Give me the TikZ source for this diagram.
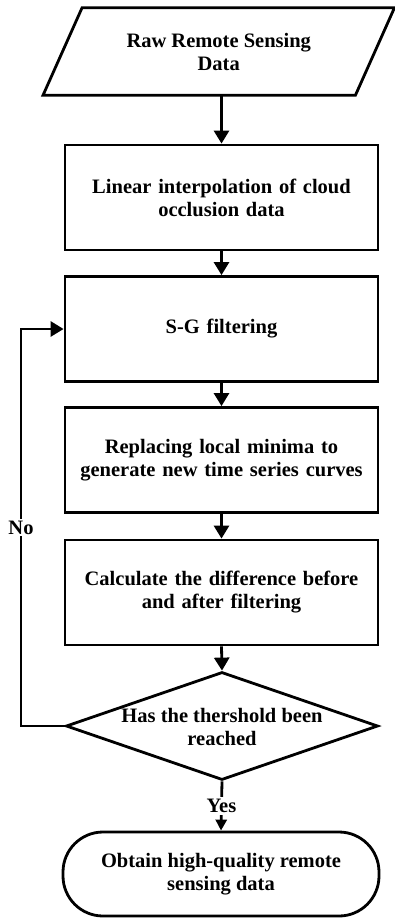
\documentclass[tikz,border=0pt]{standalone}
\usepackage{fontspec}
\setmainfont{Liberation Serif}
\usetikzlibrary{arrows.meta,shapes.geometric}
\begin{document}
\begin{tikzpicture}[x=1pt,y=1pt,
  txt/.style={font=\bfseries\fontsize{20.5}{23}\selectfont, align=center},
  box/.style={txt, draw, line width=2.8pt, minimum width=313pt, minimum height=105pt, inner sep=0pt, text width=300pt},
  ghost/.style={txt, minimum width=312pt, minimum height=87pt, inner sep=0pt},
  dia/.style={draw, diamond, line width=2.8pt, minimum width=312pt, minimum height=108pt, inner sep=0pt},
  term/.style={txt, draw, line width=2.8pt, rounded corners=40pt, minimum width=316pt, minimum height=84pt, inner sep=0pt},
  arr/.style={line width=2.8pt, -{Triangle[width=15pt,length=13pt]}},
  arrs/.style={line width=2.8pt, -{Triangle[width=11pt,length=11pt]}},
  lbl/.style={txt, fill=white, inner sep=2pt},
]
\useasboundingbox (0,0) rectangle (395,-918);

\node[ghost] (raw) at (218.75,-51.5) {Raw Remote Sensing\\Data};
\draw[line width=2.8pt, line join=miter]
  ([xshift=19.5pt]raw.north west) -- ([xshift=19.5pt]raw.north east)
  -- ([xshift=-19.5pt]raw.south east) -- ([xshift=-19.5pt]raw.south west) -- cycle;

\node[box] (b2) at (221.5,-197.5) {Linear interpolation of cloud\\occlusion data};
\node[box] (b3) at (221.5,-329) {S-G filtering};
\node[box] (b4) at (221.5,-460) {Replacing local minima to\\generate new time series curves};
\node[box] (b5) at (221.5,-592.5) {Calculate the difference before\\and after filtering};
\node[dia] (dec) at (222,-726) {};
\node[txt] (dectxt) at (222,-727) {Has the thershold been\\reached};
\node[term] (end) at (221,-874) {Obtain high-quality remote\\sensing data};

\draw[arr] (raw.south -| b2.north) -- (b2.north);
\draw[arr] (b2) -- (b3);
\draw[arr] (b3) -- (b4);
\draw[arr] (b4) -- (b5);
\draw[arr] (b5.south) -- (dec.north);
\draw[arrs] (dec.south) -- node[lbl] (yes) {Yes} (end.north);

\coordinate (c1) at (21,-726);
\coordinate (c2) at (21,-329);
\draw[arr, line join=miter] (dec.west) -- (c1) -- node[lbl] (no) {No} (c2) -- (b3.west);
\end{tikzpicture}
\end{document}
